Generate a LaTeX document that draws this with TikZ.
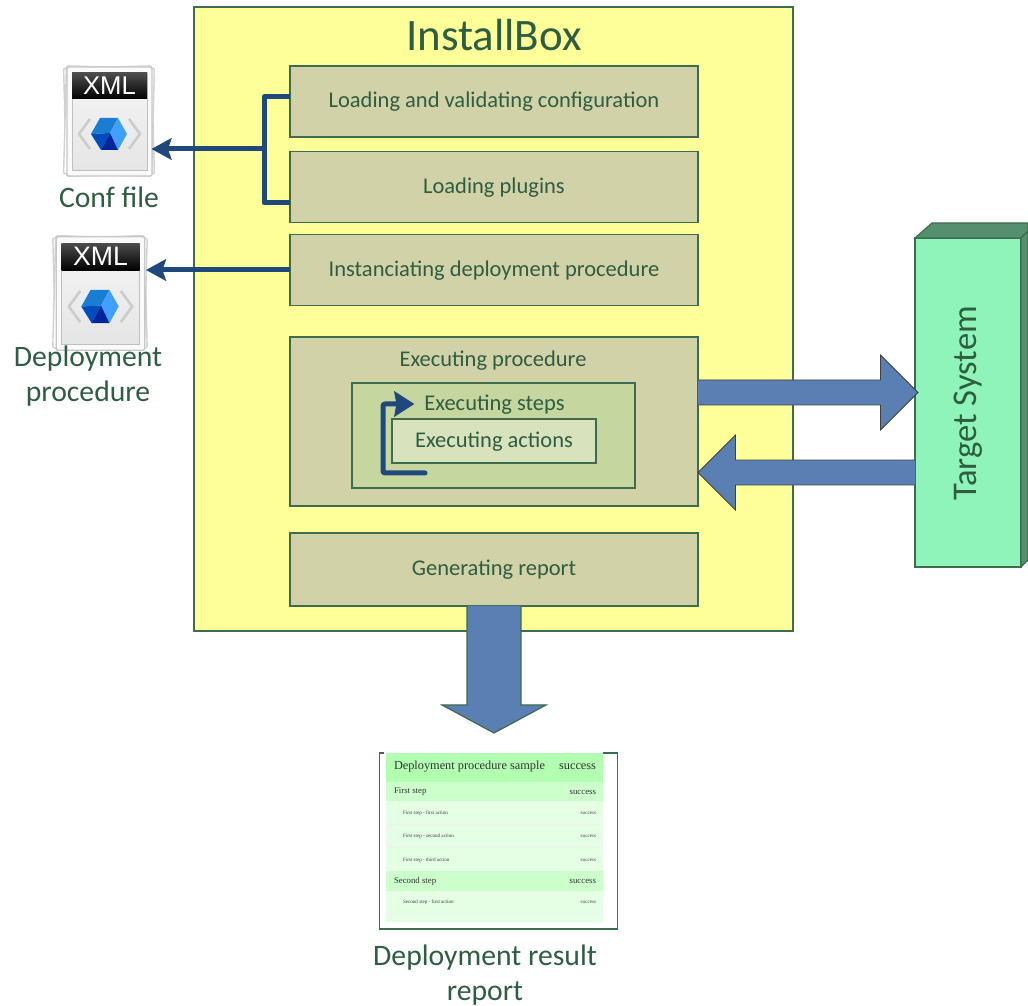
\documentclass[tikz,border=0pt]{standalone}
\usepackage{fontspec}
\setmainfont{Carlito}
\newfontfamily\reportfont{Liberation Serif}
\newfontfamily\iconfont{Liberation Sans}
\usetikzlibrary{calc,arrows.meta}
\definecolor{linegreen}{HTML}{3F6B4E}
\definecolor{textgreen}{HTML}{2F5D42}
\definecolor{boxyellow}{HTML}{FFFF99}
\definecolor{stagefill}{HTML}{D2D2A8}
\definecolor{stepsfill}{HTML}{C6D69F}
\definecolor{actionsfill}{HTML}{D8E3BD}
\definecolor{targetfill}{HTML}{8FF4BA}
\definecolor{targetdark}{HTML}{54906F}
\definecolor{busblue}{HTML}{1F497D}
\definecolor{bigblue}{HTML}{5A7FB2}
\tikzset{
	every node/.style={text=textgreen, outer sep=0pt},
	framebox/.style={draw=linegreen, line width=.7pt},
	stagebox/.style={framebox, fill=stagefill, minimum width=8.16cm, minimum height=1.42cm},
	stagelabel/.style={font=\fontsize{12.8}{15}\selectfont, text height=.32cm, text depth=.06cm},
	biglabel/.style={font=\fontsize{16.9}{20}\selectfont, align=center},
	bus/.style={draw=busblue, line width=.1cm, line join=round},
	tipped/.style={bus, -{Stealth[length=.4cm, width=.43cm, inset=.07cm]}},
	reportmain/.style={font=\reportfont\fontsize{7}{8}\selectfont, text=black!80, inner sep=0pt},
	reportstep/.style={font=\reportfont\fontsize{5}{6}\selectfont, text=black!80, inner sep=0pt},
	reportaction/.style={font=\reportfont\fontsize{2.9}{3}\selectfont, text=black!75, inner sep=0pt},
	bigarrow/.style={draw=black!75, line width=.5pt, fill=bigblue, line join=miter},
	xmlicon/.pic={
		\foreach \r in {1.5,-1.5}
			\draw[rotate=\r, black!18, fill=white, line width=.8pt, rounded corners=.04cm] (-44,-54) rectangle (44,54);
		\draw[black!22, fill=black!2, line width=.7pt, rounded corners=.04cm] (-42,-54) rectangle (43,55);
		\shade[top color=black!4, bottom color=black!10, draw=black!25, line width=.4pt] (-37,-48) rectangle (38,49);
		\shade[top color=black!70, bottom color=black] (-37,-48) rectangle (38,-22);
		\node[font=\iconfont\fontsize{14.6}{15}\selectfont, text=white, transform shape, inner sep=0pt] (xml) at (0.5,-35) {XML};
		\draw[black!20, line width=1.5pt, line join=round] (-19,-2)--(-30,13)--(-19,28) (20,-2)--(31,13)--(20,28);
		\fill[blue!45!cyan!80!black!90] (-18,13)--(-9,-3)--(9,-3)--(1,12)--cycle;
		\fill[blue!60!cyan!75!black] (-18,13)--(1,12)--(-8,29)--cycle;
		\fill[blue!50!cyan!75!white] (1,12)--(9,-3)--(18,13)--(9,29)--cycle;
		\fill[blue!75!cyan!60!black] (1,12)--(9,29)--(-8,29)--cycle;
	}
}
\newcommand{\blockarrow}[2]{
	\draw[bigarrow] ($(#1)!.25cm!90:(#2)$)
	-- ($(#2)!.75cm!(#1)!.25cm!90:(#2)$) -- ($(#2)!.75cm!(#1)!.75cm!90:(#2)$)
	-- (#2)
	-- ($(#2)!.75cm!(#1)!.75cm!-90:(#2)$) -- ($(#2)!.75cm!(#1)!.25cm!-90:(#2)$)
	-- ($(#1)!.25cm!-90:(#2)$);
}
\begin{document}
\begin{tikzpicture}[x=.02cm, y=-.02cm, >=stealth]
	\useasboundingbox (0,0) rectangle (1028,1006);
	% main box
	\node[framebox, fill=boxyellow, minimum width=11.98cm, minimum height=12.48cm] (installbox) at (493.5,319) {};
	\node[font=\fontsize{25.6}{30}\selectfont] (title) at (494,35.5) {InstallBox};
	\node[stagebox, stagelabel] (config) at (494,101.5) {Loading and validating configuration};
	\node[stagebox, stagelabel] (plugins) at (494,187) {Loading plugins};
	\node[stagebox, stagelabel] (instance) at (494,270) {Instanciating deployment procedure};
	\node[stagebox, minimum height=3.38cm] (execproc) at (494,421.5) {};
	\node[stagelabel] (execlabel) at (493,360) {Executing procedure};
	\node[framebox, fill=stepsfill, minimum width=5.66cm, minimum height=2.1cm] (execsteps) at (493.5,435.5) {};
	\node[stagelabel, inner sep=.2cm] (stepslabel) at (494.5,404) {Executing steps};
	\node[framebox, fill=actionsfill, stagelabel, minimum width=4.08cm, minimum height=.88cm] (execactions) at (494,441) {Executing actions};
	\node[stagebox, stagelabel, minimum height=1.46cm] (report) at (494,569.5) {Generating report};
	% target system
	\node[framebox, fill=targetfill, minimum width=2.12cm, minimum height=6.58cm] (target) at (968,402.5) {};
	\draw[framebox, fill=targetdark] (target.north west)--(932,223)--(1028,223)--(1028,231)--(target.north east)--cycle;
	\draw[framebox, fill=targetdark] (target.north east)--(1028,231)--(1028,560)--(target.south east)--cycle;
	\node[rotate=90, font=\fontsize{19.7}{24}\selectfont] (targetlabel) at (968,403.5) {Target System};
	% xml files
	\node[minimum width=1.7cm, minimum height=2.24cm, inner sep=0pt] (conffile) at (109,121) {};
	\pic at (conffile) {xmlicon};
	\node[biglabel] (conflabel) at (109,197) {Conf file};
	\node[minimum width=1.84cm, minimum height=2.34cm, inner sep=0pt] (deployfile) at (100,293) {};
	\pic[scale=1.04] at (deployfile) {xmlicon};
	\node[biglabel] (deploylabel) at (88,376) {Deployment\\procedure};
	% thin connectors
	\coordinate (configout) at (290,97);
	\coordinate (pluginsout) at (290,203);
	\coordinate (confjoin) at (264,149);
	\coordinate (looptail) at (425,473);
	\coordinate (loopturn) at (383,404);
	\draw[bus] (configout) -| (confjoin) |- (pluginsout);
	\draw[tipped] (confjoin) -- (confjoin -| conffile.east);
	\draw[tipped] (instance.west) -- (instance.west -| deployfile.east);
	\draw[bus, -{Stealth[length=.4cm, width=.5cm, inset=.04cm]}, rounded corners=.04cm, line cap=round] (looptail) -| (loopturn) -- (stepslabel.west);
	% block arrows
	\coordinate (sendfrom) at (698,392.5);
	\coordinate (sendto) at (918,392.5);
	\coordinate (backfrom) at (915,472.5);
	\coordinate (backto) at (698,472.5);
	\blockarrow{sendfrom}{sendto}
	\blockarrow{backfrom}{backto}
	% result report
	\node[minimum width=4.76cm, minimum height=3.52cm, inner sep=0pt] (sheet) at (498.5,841) {};
	\coordinate (reporttip) at (494,733);
	\draw[bigarrow, draw=linegreen, line width=.7pt] ($(report.south)+(-27,0)$) -- ($(report.south)+(-27,99)$) -- ($(report.south)+(-52,99)$)
	-- (reporttip)
	-- ($(report.south)+(52,99)$) -- ($(report.south)+(27,99)$) -- ($(report.south)+(27,0)$);
	\draw[framebox, line width=.8pt] (sheet.north west) rectangle (sheet.south east);
	\fill[white] (384,751) rectangle (603,922);
	\draw[black!25, line width=.4pt] (386,753)--(386,922);
	\fill[green!30!white] (386,753) rectangle (603,782);
	\fill[green!20!white] (386,782) rectangle (603,801) (386,871) rectangle (603,891);
	\fill[green!10!white] (386,801) rectangle (603,871) (386,891) rectangle (603,922);
	\draw[green!6!black!6, line width=.4pt] (386,824)--(603,824) (386,847)--(603,847) (386,913)--(603,913);
	\node[reportmain, anchor=west] (sampletitle) at (394,767) {Deployment procedure sample};
	\node[reportmain, anchor=east] (sampleresult) at (596,767) {success};
	\foreach \ypos/\steptext [count=\n] in {792/First step, 881/Second step}{
		\node[reportstep, anchor=west] (steptext\n) at (394,\ypos) {\steptext};
		\node[reportstep, anchor=east] (stepresult\n) at (596,\ypos) {success};
	}
	\foreach \ypos/\acttext [count=\n] in {813/First step - first action, 836/First step - second action, 860/First step - third action, 902/Second step - first action}{
		\node[reportaction, anchor=west] (acttext\n) at (403,\ypos) {\acttext};
		\node[reportaction, anchor=east] (actresult\n) at (596,\ypos) {success};
	}
	\node[biglabel] (resultlabel) at (485,975) {Deployment result\\report};
\end{tikzpicture}
\end{document}
